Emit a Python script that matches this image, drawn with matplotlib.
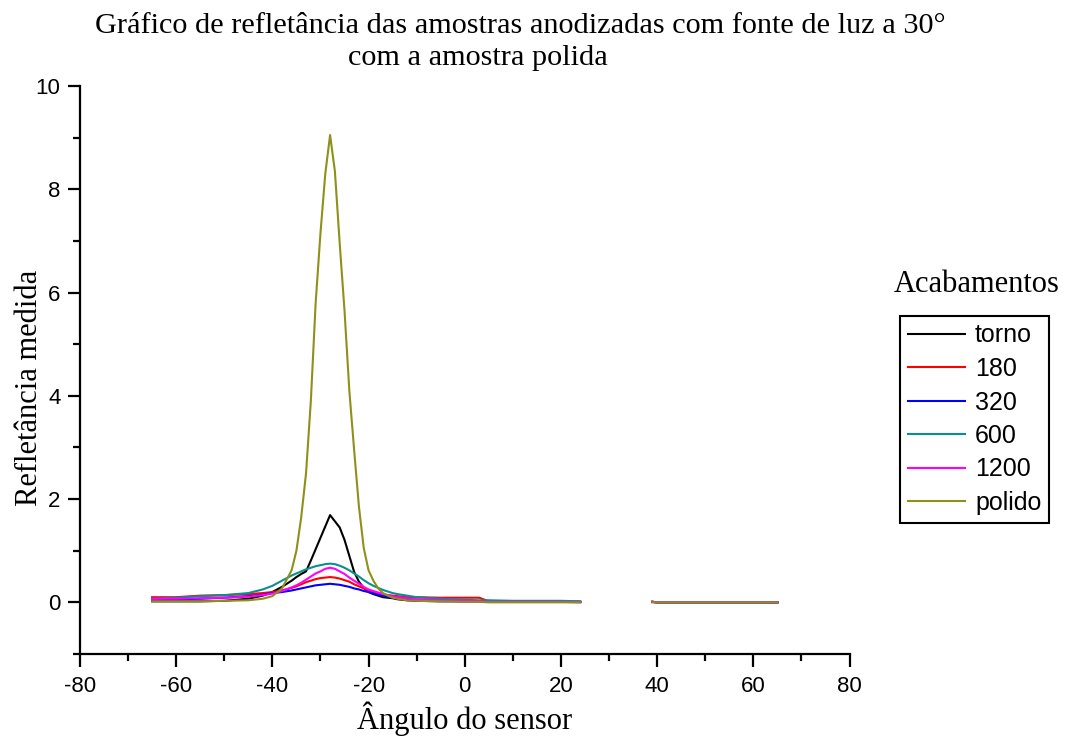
import numpy as np
import matplotlib
matplotlib.use("Agg")
import matplotlib.pyplot as plt
from matplotlib.ticker import MultipleLocator

plt.rcParams["axes.unicode_minus"] = False

# sensor angle (deg) -- gap between 24 and 39 where the light source sits
angulo = [-65, -60, -55, -50, -45, -42, -40, -38, -36,
          -35, -34, -33, -32, -31, -30, -29, -28, -27, -26, -25, -24,
          -23, -22, -21, -20, -19, -18, -17, -16, -15, -14,
          -12, -10, -5, 0, 3, 5, 10, 15, 20, 24,
          39, 40, 45, 50, 55, 60, 65]

torno = [0.02, 0.02, 0.02, 0.03, 0.07, 0.13, 0.20, 0.30, 0.42,
         0.49, 0.55, 0.60, 0.81, 1.03, 1.25, 1.47, 1.69, 1.57, 1.45, 1.21, 0.90,
         0.59, 0.40, 0.28, 0.20, 0.16, 0.13, 0.10, 0.09, 0.08, 0.06,
         0.04, 0.03, 0.02, 0.02, 0.02, 0.01, 0.01, 0.01, 0.01, 0.01,
         0.01, 0.0, 0.0, 0.0, 0.0, 0.0, 0.0]

a180 = [0.10, 0.10, 0.13, 0.14, 0.16, 0.18, 0.20, 0.23, 0.28,
        0.31, 0.35, 0.39, 0.42, 0.45, 0.47, 0.48, 0.49, 0.48, 0.46, 0.43, 0.40,
        0.35, 0.31, 0.27, 0.23, 0.20, 0.18, 0.16, 0.14, 0.13, 0.12,
        0.10, 0.10, 0.09, 0.09, 0.09, 0.02, 0.01, 0.01, 0.01, 0.01,
        0.01, 0.0, 0.0, 0.0, 0.0, 0.0, 0.0]

a320 = [0.06, 0.06, 0.07, 0.09, 0.12, 0.15, 0.18, 0.20, 0.23,
        0.25, 0.27, 0.29, 0.31, 0.33, 0.34, 0.35, 0.36, 0.35, 0.34, 0.32, 0.30,
        0.27, 0.25, 0.22, 0.20, 0.17, 0.15, 0.13, 0.11, 0.09, 0.08,
        0.06, 0.05, 0.04, 0.03, 0.02, 0.02, 0.01, 0.01, 0.01, 0.01,
        0.01, 0.0, 0.0, 0.0, 0.0, 0.0, 0.0]

a600 = [0.07, 0.09, 0.12, 0.14, 0.18, 0.25, 0.32, 0.42, 0.52,
        0.56, 0.60, 0.64, 0.67, 0.70, 0.72, 0.74, 0.75, 0.74, 0.71, 0.67, 0.62,
        0.56, 0.50, 0.43, 0.37, 0.32, 0.28, 0.24, 0.21, 0.18, 0.16,
        0.13, 0.10, 0.07, 0.05, 0.04, 0.04, 0.03, 0.03, 0.03, 0.02,
        0.01, 0.0, 0.0, 0.0, 0.0, 0.0, 0.0]

a1200 = [0.07, 0.07, 0.08, 0.09, 0.11, 0.14, 0.17, 0.22, 0.29,
         0.33, 0.38, 0.44, 0.50, 0.56, 0.60, 0.65, 0.67, 0.65, 0.60, 0.55, 0.48,
         0.42, 0.36, 0.30, 0.25, 0.22, 0.19, 0.16, 0.14, 0.12, 0.10,
         0.08, 0.06, 0.04, 0.03, 0.02, 0.01, 0.01, 0.01, 0.01, 0.0,
         0.01, 0.0, 0.0, 0.0, 0.0, 0.0, 0.0]

polido = [0.02, 0.02, 0.02, 0.03, 0.04, 0.07, 0.12, 0.27, 0.62,
          1.00, 1.65, 2.50, 3.90, 5.80, 7.15, 8.30, 9.05, 8.35, 6.95, 5.65, 4.10,
          2.95, 1.85, 1.05, 0.62, 0.42, 0.27, 0.18, 0.13, 0.09, 0.07,
          0.04, 0.03, 0.02, 0.01, 0.01, 0.0, 0.0, 0.0, 0.0, 0.0,
          0.0, 0.0, 0.0, 0.0, 0.0, 0.0, 0.0]

nomes = ["torno", "180", "320", "600", "1200", "polido"]
series = [torno, a180, a320, a600, a1200, polido]
cores = ["#000000", "#ff0000", "#0000ff", "#0a8f8f", "#ff00ff", "#8f8f1a"]

serif = "Liberation Serif"
sans = "Liberation Sans"

fig = plt.figure(figsize=(10.66, 7.42), dpi=100)
ax = fig.add_axes([0.075, 0.1186, 0.722, 0.7655])

x = np.array(angulo, dtype=float)
corte = np.where(np.diff(x) > 10)[0][0] + 1
xp = np.insert(x, corte, np.nan)
for nome, y, c in zip(nomes, series, cores):
    yp = np.insert(np.array(y, dtype=float), corte, np.nan)
    ax.plot(xp, yp, color=c, lw=1.5, label=nome)

ax.set_xlim(-80, 80)
ax.set_ylim(-1, 10)
ax.xaxis.set_major_locator(MultipleLocator(20))
ax.xaxis.set_minor_locator(MultipleLocator(10))
ax.yaxis.set_major_locator(MultipleLocator(2))
ax.yaxis.set_minor_locator(MultipleLocator(1))
ax.spines["top"].set_visible(False)
ax.spines["right"].set_visible(False)
for s in ("left", "bottom"):
    ax.spines[s].set_linewidth(1.6)
ax.tick_params(which="major", direction="out", length=9, width=1.6,
               labelsize=16)
ax.tick_params(axis="x", which="major", pad=7)
ax.tick_params(axis="y", which="major", pad=5)
ax.tick_params(which="minor", direction="out", length=5, width=1.6)
for lab in ax.get_xticklabels() + ax.get_yticklabels():
    lab.set_fontfamily(sans)

fig.text(465 / 1066, 1 - 719 / 742, "Ângulo do sensor", ha="center",
         va="center", fontfamily=serif, fontsize=22)
fig.text(30 / 1066, 1 - 388 / 742, "Refletância medida", ha="center",
         va="center", rotation=90, fontfamily=serif, fontsize=22)

fig.text(520 / 1066, 1 - 26 / 742,
         "Gráfico de refletância das amostras anodizadas com fonte de luz a 30°",
         ha="center", va="center", fontfamily=serif, fontsize=21.8)
fig.text(478 / 1066, 1 - 58 / 742, "com a amostra polida",
         ha="center", va="center", fontfamily=serif, fontsize=21.8)

fig.text(977 / 1066, 1 - 285 / 742, "Acabamentos", ha="center", va="center",
         fontfamily=serif, fontsize=22)
leg = ax.legend(loc="upper left", bbox_to_anchor=(900 / 1066, 1 - 316 / 742),
                bbox_transform=fig.transFigure, borderaxespad=0,
                fancybox=False, framealpha=1, edgecolor="black",
                prop={"family": sans, "size": 18}, handlelength=2.3,
                handletextpad=0.4, labelspacing=0.38, borderpad=0.3)
leg.get_frame().set_linewidth(1.5)

fig.savefig("out.png", dpi=100)
